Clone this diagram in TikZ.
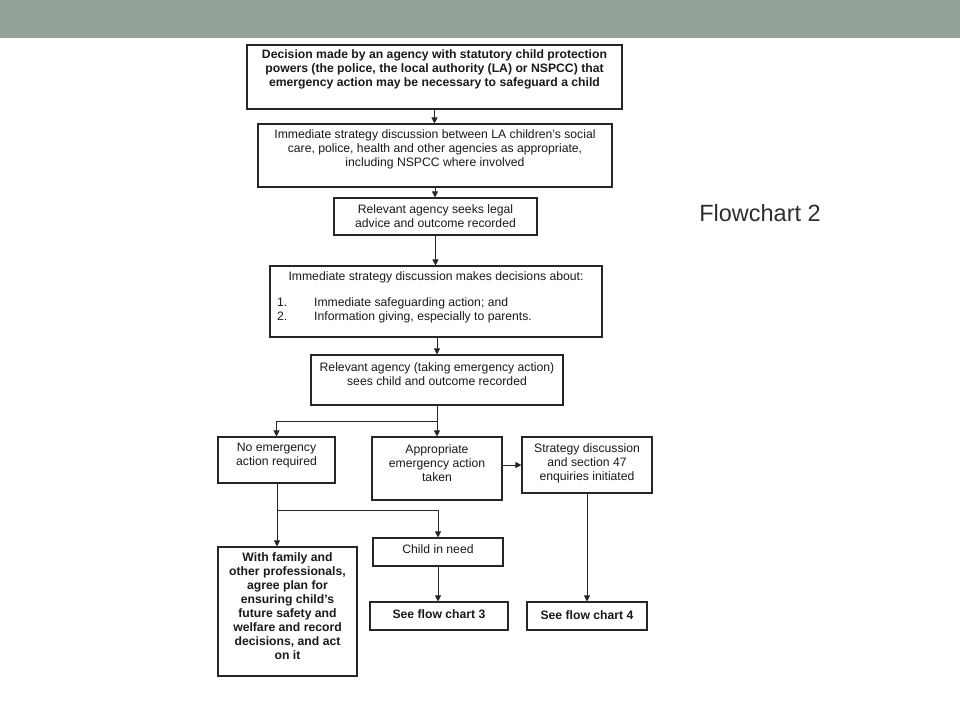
\documentclass[tikz,border=0pt]{standalone}
\usepackage{fontspec}
\setmainfont{Liberation Sans}
\usetikzlibrary{arrows.meta}
\definecolor{banner}{HTML}{92A296}
\definecolor{linec}{HTML}{262626}
\definecolor{textc}{HTML}{1A1A1A}
\definecolor{titlec}{HTML}{2E2E2E}
\begin{document}
\begin{tikzpicture}[x=1pt,y=-1pt,
 box/.style={draw=linec, line width=1.1pt, inner sep=0pt, fill=white},
 txt/.style={font=\fontsize{12.2}{14}\selectfont, align=center, inner sep=0pt, text=textc},
 btxt/.style={font=\fontsize{12.2}{14}\selectfont\bfseries, align=center, inner sep=0pt, text=textc},
 ltxt/.style={font=\fontsize{12.2}{14}\selectfont, align=left, inner sep=0pt, text=textc, anchor=west},
 arr/.style={draw=linec, line width=0.9pt, -{Triangle[length=6pt,width=6pt]}},
 ln/.style={draw=linec, line width=0.9pt}]
\useasboundingbox (0,0) rectangle (960,720);
\fill[white] (0,0) rectangle (960,720);
\fill[banner] (0,0) rectangle (960,38);

% boxes
\node[box, minimum width=375pt, minimum height=64pt] (b1) at (434.5,77) {};
\node[box, minimum width=354pt, minimum height=63pt] (b2) at (435,155.5) {};
\node[box, minimum width=203pt, minimum height=37pt] (b3) at (435.5,216.5) {};
\node[box, minimum width=332pt, minimum height=71pt] (b4) at (436,301.5) {};
\node[box, minimum width=252pt, minimum height=50pt] (b5) at (437,380) {};
\node[box, minimum width=117pt, minimum height=46pt] (b6) at (276.5,460) {};
\node[box, minimum width=130pt, minimum height=63pt] (b7) at (437,468.5) {};
\node[box, minimum width=130pt, minimum height=56pt] (b8) at (587,465) {};
\node[box, minimum width=139pt, minimum height=129pt] (b9) at (287.5,611.5) {};
\node[box, minimum width=130pt, minimum height=28pt] (b10) at (438,552) {};
\node[box, minimum width=138pt, minimum height=28pt] (b11) at (439,616) {};
\node[box, minimum width=120pt, minimum height=28pt] (b12) at (587,616) {};

% texts
\node[btxt] (t1) at (434.5,69.5) {Decision made by an agency with statutory child protection\\powers (the police, the local authority (LA) or NSPCC) that\\emergency action may be necessary to safeguard a child};
\node[txt] (t2) at (435,149) {Immediate strategy discussion between LA children’s social\\care, police, health and other agencies as appropriate,\\including NSPCC where involved};
\node[txt] (t3) at (435.5,216.5) {Relevant agency seeks legal\\advice and outcome recorded};
\node[txt] (t4) at (436,277) {Immediate strategy discussion makes decisions about:};
\node[ltxt] (t4b) at (277,310) {\makebox[37pt][l]{1.}Immediate safeguarding action; and\\\makebox[37pt][l]{2.}Information giving, especially to parents.};
\node[txt] (t5) at (437,374) {Relevant agency (taking emergency action)\\sees child and outcome recorded};
\node[txt] (t6) at (276.5,456) {No emergency\\action required};
\node[txt] (t7) at (437,463) {Appropriate\\emergency action\\taken};
\node[txt] (t8) at (587,463) {Strategy discussion\\and section 47\\enquiries initiated};
\node[btxt] (t9) at (287.5,606.5) {With family and\\other professionals,\\agree plan for\\ensuring child’s\\future safety and\\welfare and record\\decisions, and act\\on it};
\node[txt] (t10) at (438,549.5) {Child in need};
\node[btxt] (t11) at (439,614.5) {See flow chart 3};
\node[btxt] (t12) at (587,615) {See flow chart 4};

\node[font=\fontsize{23.5}{27}\selectfont, text=titlec, inner sep=0pt] (title) at (760,213) {Flowchart 2};

% connectors
\draw[arr] (b1.south) -- (b1.south |- b2.north);
\draw[arr] (b2.south) -- (b2.south |- b3.north);
\draw[arr] (b3.south) -- (b3.south |- b4.north);
\draw[arr] (b5.north |- b4.south) -- (b5.north);
\coordinate (j1) at (437,421);
\draw[ln] (b5.south) -- (j1);
\draw[arr] (j1) -| (b6.north);
\draw[arr] (j1) -- (b7.north);
\draw[arr] (b7.east |- b8.west) -- (b8.west);
\coordinate (j2) at (277,510);
\draw[ln] (b6.south -| j2) -- (j2);
\draw[arr] (j2) -| (b10.north);
\draw[arr] (j2) -- (j2 |- b9.north);
\draw[arr] (b10.south) -- (b10.south |- b11.north);
\draw[arr] (b8.south) -- (b12.north);
\end{tikzpicture}
\end{document}
